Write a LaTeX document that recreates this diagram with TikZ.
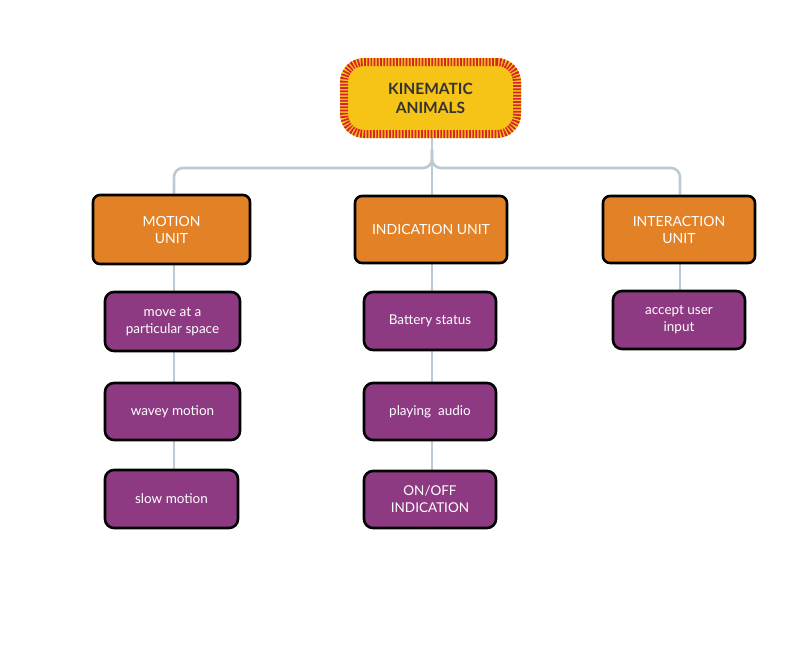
\documentclass[tikz,border=0pt]{standalone}
\usepackage{fontspec}
\setmainfont{Lato}
\usetikzlibrary{backgrounds}
\begin{document}
\begin{tikzpicture}[x=1pt,y=-1pt,
  conn/.style={draw=connc,line width=2.6pt,rounded corners=9pt},
  titlebox/.style={fill=titlec,draw=titlec,line width=8pt,rounded corners=20pt,text=black!80,align=center,font=\bfseries\fontsize{15.5}{19}\selectfont,inner sep=0pt,
    postaction={draw=stripec,line width=8pt,dash pattern=on 1.7pt off 1.5pt}},
  unitbox/.style={draw=black,line width=2.6pt,fill=unitc,rounded corners=7pt,text=white,align=center,font=\fontsize{14}{17}\selectfont,inner sep=0pt},
  itembox/.style={draw=black,line width=2.6pt,fill=itemc,rounded corners=9pt,text=white,align=center,font=\fontsize{13.5}{17}\selectfont,inner sep=0pt}]
\definecolor{connc}{HTML}{BCCBD3}
\definecolor{unitc}{HTML}{E38126}
\definecolor{itemc}{HTML}{8E3A83}
\definecolor{titlec}{HTML}{F6C416}
\definecolor{stripec}{HTML}{D7242A}
\useasboundingbox (0,0) rectangle (800,657);
% title
\node[titlebox,minimum width=173pt,minimum height=72pt] (title) at (430.5,98) {KINEMATIC\\ANIMALS};
% units
\node[unitbox,minimum width=157pt,minimum height=69pt] (mu) at (171.5,229.5) {MOTION\\UNIT};
\node[unitbox,minimum width=152pt,minimum height=67pt] (iu) at (431,229.5) {INDICATION UNIT};
\node[unitbox,minimum width=152pt,minimum height=67pt] (xu) at (679,229.5) {INTERACTION\\UNIT};
% items
\node[itembox,minimum width=135pt,minimum height=59pt] (m1) at (172.5,321.5) {move at a\\particular space};
\node[itembox,minimum width=135pt,minimum height=57pt] (m2) at (172.5,411.5) {wavey motion};
\node[itembox,minimum width=133pt,minimum height=58pt] (m3) at (171.5,499) {slow motion};
\node[itembox,minimum width=132pt,minimum height=58pt] (i1) at (430,321) {Battery status};
\node[itembox,minimum width=132pt,minimum height=57pt] (i2) at (430,411.5) {playing\ \ audio};
\node[itembox,minimum width=132pt,minimum height=57pt] (i3) at (430,499.5) {ON/OFF\\INDICATION};
\node[itembox,minimum width=132pt,minimum height=58pt] (x1) at (679,320) {accept user\\input};
% connectors
\coordinate (split) at (432,168);
\begin{pgfonlayer}{background}
\path[conn] (title.south -| split) -- (split);
\path[conn] (split |- 0,150) -- (split) -- (174,168) -- (mu.north -| 174,0);
\path[conn] (split |- 0,150) -- (split) -- (680,168) -- (xu.north -| 680,0);
\path[conn] (split |- 0,160) -- (iu.north -| split);
\path[conn] (mu.south -| 174,0) -- (m1.north -| 174,0);
\path[conn] (m1.south -| 174,0) -- (m2.north -| 174,0);
\path[conn] (m2.south -| 174,0) -- (m3.north -| 174,0);
\path[conn] (iu.south -| split) -- (i1.north -| split);
\path[conn] (i1.south -| split) -- (i2.north -| split);
\path[conn] (i2.south -| split) -- (i3.north -| split);
\path[conn] (xu.south -| 680,0) -- (x1.north -| 680,0);
\end{pgfonlayer}
\end{tikzpicture}
\end{document}
